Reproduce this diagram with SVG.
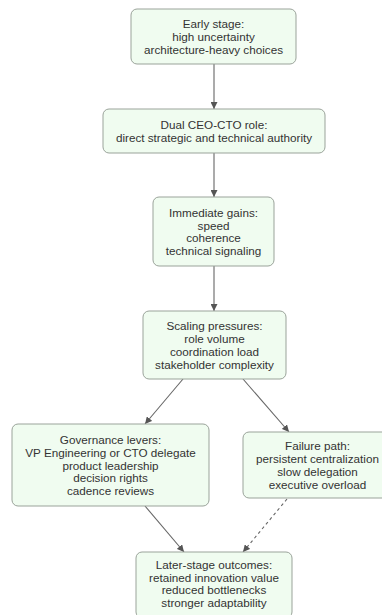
<svg xmlns="http://www.w3.org/2000/svg" width="382" height="615" viewBox="0 0 382 615">
<style>
.box{fill:#f0fcf0;stroke:#9aa39a;stroke-width:1}
.t{font-family:"Liberation Sans",Arial,sans-serif;font-size:11.7px;fill:#333;text-anchor:middle;dominant-baseline:central}
.e{fill:none;stroke:#666;stroke-width:1.1}
.d{stroke-dasharray:3,3}
</style>
<defs>
<marker id="ah" viewBox="0 0 8 8" refX="8" refY="4" markerWidth="7" markerHeight="7" markerUnits="userSpaceOnUse" orient="auto">
<path d="M0,0 L8,4 L0,8 z" fill="#555"/>
</marker>
</defs>
<rect width="382" height="615" fill="#fff"/>
<g id="edges">
<line class="e" x1="214" y1="64" x2="214" y2="109" marker-end="url(#ah)"/>
<line class="e" x1="214" y1="153" x2="214" y2="197" marker-end="url(#ah)"/>
<line class="e" x1="214" y1="266" x2="214" y2="311" marker-end="url(#ah)"/>
<line class="e" x1="183" y1="379" x2="145" y2="424" marker-end="url(#ah)"/>
<line class="e" x1="243" y1="379" x2="289" y2="432" marker-end="url(#ah)"/>
<line class="e" x1="145" y1="506" x2="184" y2="552" marker-end="url(#ah)"/>
<line class="e d" x1="287" y1="499" x2="243" y2="552" marker-end="url(#ah)"/>
</g>
<g id="n1">
<rect class="box" x="131" y="9" width="165" height="55" rx="6"/>
<text class="t" x="213.5" y="23.8">Early stage:</text>
<text class="t" x="213.5" y="36.5">high uncertainty</text>
<text class="t" x="213.5" y="49.2">architecture-heavy choices</text>
</g>
<g id="n2">
<rect class="box" x="103" y="109" width="222" height="44" rx="6"/>
<text class="t" x="214" y="124.6">Dual CEO-CTO role:</text>
<text class="t" x="214" y="137.3">direct strategic and technical authority</text>
</g>
<g id="n3">
<rect class="box" x="153" y="197" width="121" height="69" rx="6"/>
<text class="t" x="213.5" y="212.4">Immediate gains:</text>
<text class="t" x="213.5" y="225.1">speed</text>
<text class="t" x="213.5" y="237.8">coherence</text>
<text class="t" x="213.5" y="250.5">technical signaling</text>
</g>
<g id="n4">
<rect class="box" x="143" y="311" width="143" height="68" rx="6"/>
<text class="t" x="214.5" y="325.9">Scaling pressures:</text>
<text class="t" x="214.5" y="338.6">role volume</text>
<text class="t" x="214.5" y="351.3">coordination load</text>
<text class="t" x="214.5" y="364">stakeholder complexity</text>
</g>
<g id="n5">
<rect class="box" x="12" y="424" width="197" height="82" rx="6"/>
<text class="t" x="110.5" y="439.6">Governance levers:</text>
<text class="t" x="110.5" y="452.3">VP Engineering or CTO delegate</text>
<text class="t" x="110.5" y="465">product leadership</text>
<text class="t" x="110.5" y="477.7">decision rights</text>
<text class="t" x="110.5" y="490.4">cadence reviews</text>
</g>
<g id="n6">
<rect class="box" x="243" y="432" width="149" height="66" rx="6"/>
<text class="t" x="317.5" y="445.9">Failure path:</text>
<text class="t" x="317.5" y="458.6">persistent centralization</text>
<text class="t" x="317.5" y="471.3">slow delegation</text>
<text class="t" x="317.5" y="484">executive overload</text>
</g>
<g id="n7">
<rect class="box" x="136" y="552" width="156" height="66" rx="6"/>
<text class="t" x="214" y="564.5">Later-stage outcomes:</text>
<text class="t" x="214" y="577.2">retained innovation value</text>
<text class="t" x="214" y="589.9">reduced bottlenecks</text>
<text class="t" x="214" y="602.6">stronger adaptability</text>
</g>
</svg>
